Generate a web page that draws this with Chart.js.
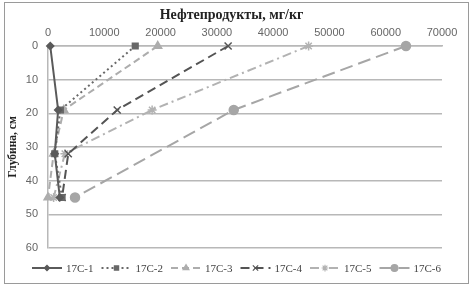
<!DOCTYPE html>
<html>
<head>
<meta charset="utf-8">
<script src="https://cdn.jsdelivr.net/npm/chart.js@4.4.1/dist/chart.umd.min.js"></script>
<style>
  html, body { margin: 0; padding: 0; background: #fff; }
  body { width: 475px; height: 289px; position: relative; overflow: hidden; }
  .frame {
    position: absolute; left: 4px; top: 2px;
    width: 465px; height: 282px;
    box-sizing: border-box; border: 1px solid #9a9a9a;
  }
  canvas { display: block; }
</style>
</head>
<body>
<div class="frame"><canvas id="chart" width="463" height="280"></canvas></div>
<script>
// depth of each sample, cm
const depths = [0, 19, 32, 45];
const seriesNames = ['17C-1', '17C-2', '17C-3', '17C-4', '17C-5', '17C-6'];
// oil products, mg/kg, per depth (null = no sample)
const s1 = [400, 1800, 1200, 2100];
const s2 = [15500, 2200, 1200, 2500];
const s3 = [19500, 2800, 1000, 0];
const s4 = [32000, 12300, 3600, 2500];
const s5 = [46300, 18500, 3000, 1000];
const s6 = [63600, 33000, null, 4800];
const xTicks = [0, 10000, 20000, 30000, 40000, 50000, 60000, 70000];
const yTicks = [0, 10, 20, 30, 40, 50, 60];
const xTitle = 'Нефтепродукты, мг/кг';
const yTitle = 'Глубина, см';

const serif = "'Liberation Serif', 'DejaVu Serif', serif";
const sans = "'Liberation Sans', Arial, sans-serif";

const styles = [
  { color: '#5a5a5a', dash: [], point: 'rectRot', r: 3.5 },
  { color: '#686868', dash: [2, 3], point: 'rect', r: 4 },
  { color: '#adadad', dash: [7, 4], point: 'triangle', r: 4.5 },
  { color: '#545454', dash: [9, 5], point: 'crossRot', r: 5 },
  { color: '#b2b2b2', dash: [9, 4, 2, 4], point: 'star', r: 4.5 },
  { color: '#a6a6a6', dash: [13, 6], point: 'circle', r: 4.5 }
];

const values = [s1, s2, s3, s4, s5, s6];

const datasets = values.map((vals, i) => ({
  label: seriesNames[i],
  data: vals.map((v, k) => (v === null ? null : { x: v, y: depths[k] })).filter(p => p),
  showLine: true,
  clip: false,
  borderColor: styles[i].color,
  backgroundColor: styles[i].color,
  borderWidth: 2,
  borderDash: styles[i].dash,
  pointStyle: styles[i].point,
  pointRadius: styles[i].r,
  pointBorderWidth: 1.5,
  pointBackgroundColor: styles[i].color,
  pointBorderColor: styles[i].color,
  tension: 0
}));

// top title (centered on the whole frame, like the original) and legend
const decorations = {
  id: 'decorations',
  afterDraw(chart) {
    const ctx = chart.ctx;
    ctx.save();
    ctx.fillStyle = '#222';
    ctx.font = 'bold 14px ' + serif;
    ctx.textAlign = 'center';
    ctx.textBaseline = 'middle';
    ctx.fillText(xTitle, chart.width / 2 - 5, 12);

    const y = 265;
    const sample = 30, gap = 4, spacing = 8;
    ctx.font = '11px ' + serif;
    const widths = chart.data.datasets.map(d => sample + gap + ctx.measureText(d.label).width);
    const total = widths.reduce((a, b) => a + b, 0) + spacing * (widths.length - 1);
    let x = (chart.width - total) / 2;
    chart.data.datasets.forEach((d, i) => {
      ctx.strokeStyle = d.borderColor;
      ctx.fillStyle = d.borderColor;
      ctx.lineWidth = 2;
      ctx.setLineDash(d.borderDash);
      ctx.beginPath();
      ctx.moveTo(x, y);
      ctx.lineTo(x + sample, y);
      ctx.stroke();
      ctx.setLineDash([]);
      if (Chart.helpers && Chart.helpers.drawPoint) {
        ctx.lineWidth = 1.2;
        Chart.helpers.drawPoint(ctx, { pointStyle: d.pointStyle, radius: d.pointRadius * 0.75, rotation: 0, borderWidth: 1.2 }, x + sample / 2, y);
      }
      ctx.fillStyle = '#444';
      ctx.textAlign = 'left';
      ctx.fillText(d.label, x + sample + gap, y + 1);
      x += widths[i] + spacing;
    });
    ctx.restore();
  }
};

new Chart(document.getElementById('chart'), {
  type: 'scatter',
  data: { datasets },
  options: {
    responsive: false,
    animation: false,
    devicePixelRatio: 1,
    layout: { padding: { left: 0, top: 0, right: 26, bottom: 35 } },
    plugins: {
      legend: { display: false },
      tooltip: { enabled: false }
    },
    scales: {
      x: {
        type: 'linear',
        position: 'top',
        min: 0,
        max: 70000,
        afterBuildTicks: s => { s.ticks = xTicks.map(v => ({ value: v })); },
        afterFit: s => { s.height = 43; },
        grid: { display: false, drawTicks: false },
        border: { display: true, color: '#b8b8b8', width: 1.5 },
        ticks: {
          padding: 6,
          color: '#666',
          font: { family: sans, size: 11 },
          callback: v => String(v),
          maxRotation: 0
        }
      },
      y: {
        type: 'linear',
        reverse: true,
        min: 0,
        max: 60,
        afterBuildTicks: s => { s.ticks = yTicks.map(v => ({ value: v })); },
        afterFit: s => { s.width = 43; },
        grid: { color: '#b8b8b8', lineWidth: 1.5, drawTicks: false },
        border: { display: true, color: '#b8b8b8', width: 1.5 },
        ticks: {
          padding: 10,
          color: '#666',
          font: { family: sans, size: 11 }
        },
        title: {
          display: true,
          text: yTitle,
          color: '#222',
          font: { family: serif, size: 11.5, weight: 'bold' },
          padding: { top: 1, bottom: 0 }
        }
      }
    }
  },
  plugins: [decorations]
});
</script>
</body>
</html>
